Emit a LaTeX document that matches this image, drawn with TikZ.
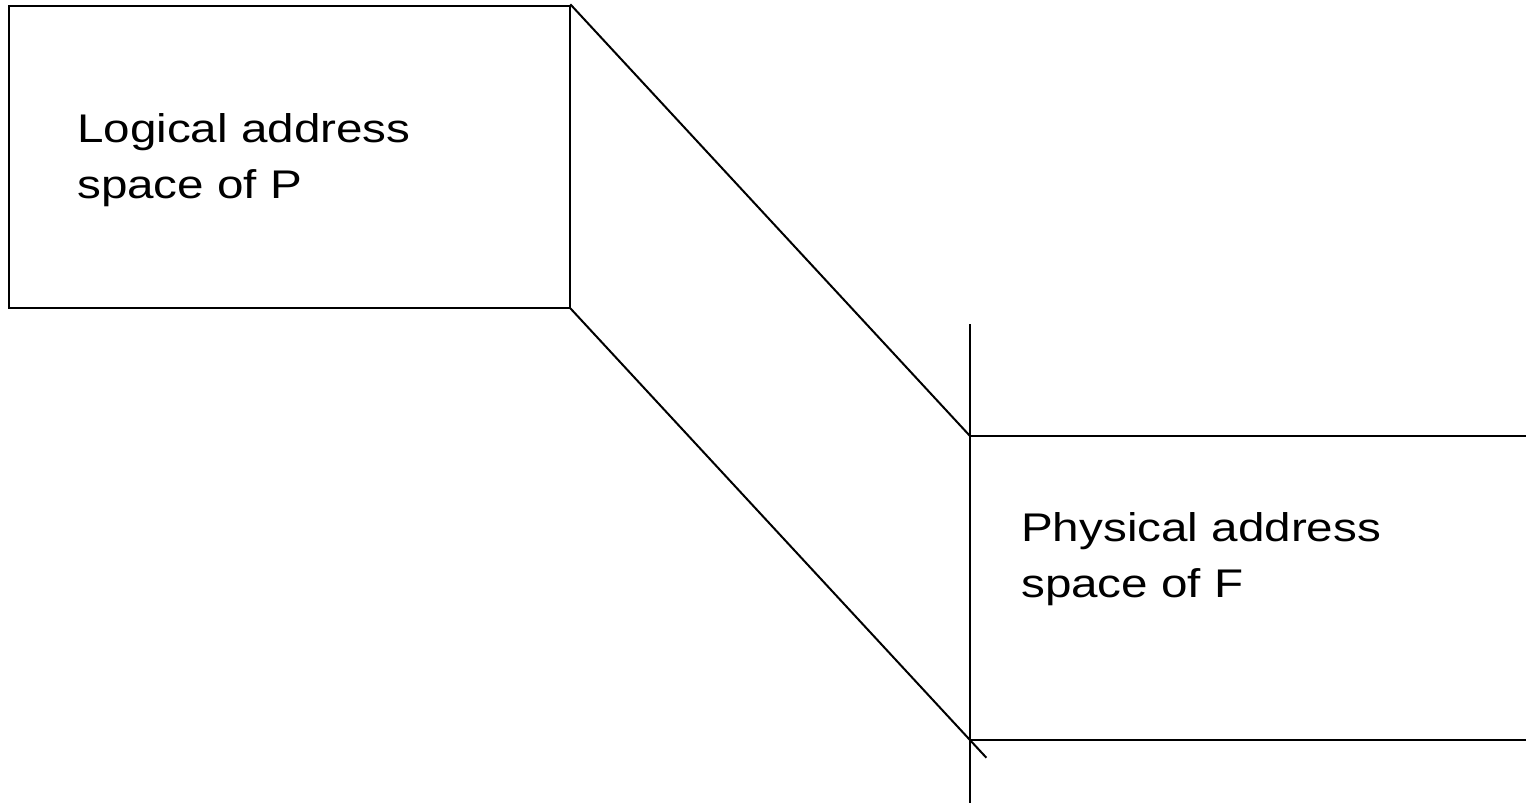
\documentclass[tikz,border=0pt]{standalone}
\usepackage{fontspec}
\setmainfont{Liberation Sans}
\newfontfamily\labelfont[FakeStretch=1.19]{Liberation Sans}
\begin{document}
\begin{tikzpicture}[x=1pt,y=-1pt,
  edge/.style={line width=2pt,line cap=rect},
  spacebox/.style={draw,line width=2pt,minimum width=561pt,minimum height=302pt,inner sep=0pt},
  spacelabel/.style={anchor=base west,align=left,inner sep=0pt,
    font=\labelfont\fontsize{40}{56}\selectfont}]
  \useasboundingbox (0,0) rectangle (1526,803);

  % logical address space of the process
  \node[spacebox] (logical) at (289.5,157) {};
  % base anchor of a two-line label sits on its last line
  \node[spacelabel] (logtext) at (77,198) {Logical address\\space of P};

  % frame boundaries in physical memory
  \coordinate (vtop) at (970,325);
  \coordinate (vbot) at (970,803);
  \coordinate (ftop) at (970,436);
  \coordinate (ftopr) at (1526,436);
  \coordinate (fbot) at (970,740);
  \coordinate (fbotr) at (1526,740);
  \coordinate (fbotx) at (985.7,757);

  \draw[edge] (vtop) -- (vbot);
  \draw[edge] (ftop) -- (ftopr);
  \draw[edge] (fbot) -- (fbotr);

  \node[spacelabel] (phystext) at (1021,597) {Physical address\\space of F};

  % mapping of the logical space onto the frame
  \draw[edge] (logical.north east) -- (ftop);
  \draw[edge] (logical.south east) -- (fbotx);
\end{tikzpicture}
\end{document}
